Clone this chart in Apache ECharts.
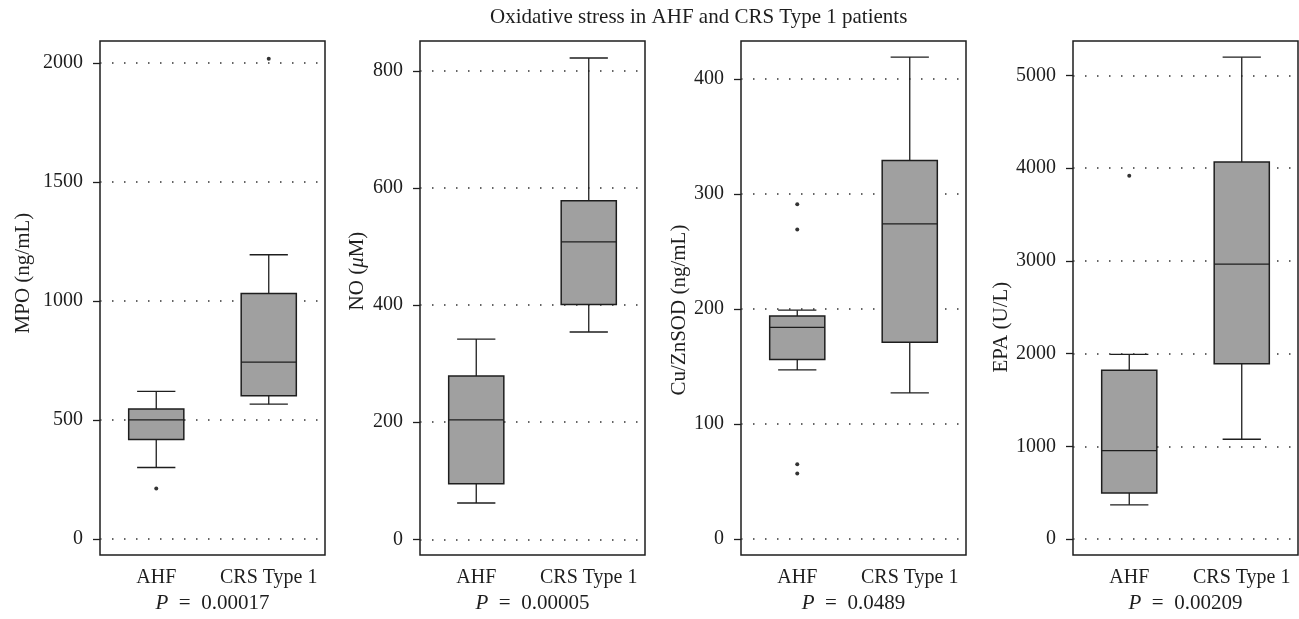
<!DOCTYPE html>
<html>
<head>
<meta charset="utf-8">
<script src="https://cdn.jsdelivr.net/npm/echarts@6/dist/echarts.min.js"></script>
<style>
  html, body { margin: 0; padding: 0; background: #fff; }
  #main { width: 1299px; height: 619px; }
</style>
</head>
<body>
<div id="main"></div>
<script>
// categories
var categories = ['AHF', 'CRS Type 1']

// box values: [low whisker, Q1, median, Q3, high whisker]
var mpoAHF = [300, 418, 500, 546, 620]
var mpoCRS = [566, 601, 743, 1031, 1194]
var mpoOutliers = [[0, 212], [1, 2017]]

var noAHF = [62, 95, 204, 279, 342]
var noCRS = [354, 401, 508, 578, 822]
var noOutliers = []

var sodAHF = [147, 156, 184, 194, 199]
var sodCRS = [127, 171, 274, 329, 419]
var sodOutliers = [[0, 291], [0, 269], [0, 65], [0, 57]]

var epaAHF = [368, 496, 953, 1821, 1991]
var epaCRS = [1076, 1889, 2964, 4066, 5197]
var epaOutliers = [[0, 3917]]

// tick labels of each panel
var mpoTicks = [0, 500, 1000, 1500, 2000]
var noTicks = [0, 200, 400, 600, 800]
var sodTicks = [0, 100, 200, 300, 400]
var epaTicks = [0, 1000, 2000, 3000, 4000, 5000]

var pValues = ['0.00017', '0.00005', '0.0489', '0.00209']

var FONT = 'Liberation Serif'
var INK = '#1e1e1e'

// draws one box with whiskers through the axis scales
function renderBox(params, api) {
  var idx = api.value(0)
  var low = api.coord([idx, api.value(1)])
  var q1 = api.coord([idx, api.value(2)])
  var med = api.coord([idx, api.value(3)])
  var q3 = api.coord([idx, api.value(4)])
  var high = api.coord([idx, api.value(5)])
  var band = api.size([1, 0])[0]
  var x = med[0]
  var hw = band * 0.245
  var cw = band * 0.17
  var ls = { stroke: INK, lineWidth: 1.3, fill: null }
  return {
    type: 'group',
    children: [
      { type: 'line', shape: { x1: x, y1: high[1], x2: x, y2: q3[1] }, style: ls },
      { type: 'line', shape: { x1: x, y1: q1[1], x2: x, y2: low[1] }, style: ls },
      { type: 'line', shape: { x1: x - cw, y1: high[1], x2: x + cw, y2: high[1] }, style: ls },
      { type: 'line', shape: { x1: x - cw, y1: low[1], x2: x + cw, y2: low[1] }, style: ls },
      {
        type: 'rect',
        shape: { x: x - hw, y: q3[1], width: hw * 2, height: q1[1] - q3[1] },
        style: { fill: '#a0a0a0', stroke: INK, lineWidth: 1.5 }
      },
      { type: 'line', shape: { x1: x - hw, y1: med[1], x2: x + hw, y2: med[1] }, style: ls }
    ]
  }
}

var panels = [
  { left: 100, name: 'MPO (ng/mL)', min: -68, max: 2092, ticks: mpoTicks, ahf: mpoAHF, crs: mpoCRS, out: mpoOutliers, pad: [0, 0, 0, 50], gap: 66 },
  { left: 420, name: 'NO ({i|μ}M)', min: -27, max: 851, ticks: noTicks, ahf: noAHF, crs: noCRS, out: noOutliers, pad: [0, 0, 0, 54], gap: 52 },
  { left: 741, name: 'Cu/ZnSOD (ng/mL)', min: -14, max: 433, ticks: sodTicks, ahf: sodAHF, crs: sodCRS, out: sodOutliers, pad: [0, 24, 0, 0], gap: 49 },
  { left: 1073, name: 'EPA (U/L)', min: -174, max: 5372, ticks: epaTicks, ahf: epaAHF, crs: epaCRS, out: epaOutliers, pad: [0, 58, 0, 0], gap: 51 }
]

var grids = []
var xAxes = []
var yAxes = []
var series = []

panels.forEach(function (p, i) {
  grids.push({
    left: p.left, width: 225, top: 41, bottom: 63,
    show: true, borderColor: INK, borderWidth: 1.5, backgroundColor: 'transparent'
  })
  xAxes.push({
    type: 'category',
    gridIndex: i,
    data: categories,
    axisLine: { show: false },
    axisTick: { show: false },
    axisLabel: { interval: 0, color: INK, fontFamily: FONT, fontSize: 20, margin: 13 },
    name: '{i|P}  =  ' + pValues[i],
    nameLocation: 'middle',
    nameGap: 29,
    nameTextStyle: {
      color: INK, fontFamily: FONT, fontSize: 21,
      rich: { i: { fontStyle: 'italic', fontFamily: FONT, fontSize: 21, color: INK } }
    }
  })
  yAxes.push({
    type: 'value',
    gridIndex: i,
    min: p.min,
    max: p.max,
    axisLine: { show: false },
    axisTick: { show: true, length: 7, customValues: p.ticks, lineStyle: { color: INK, width: 1.3 } },
    axisLabel: {
      customValues: p.ticks, color: INK, fontFamily: FONT, fontSize: 20, margin: 17,
      formatter: function (v) { return String(v) }
    },
    splitLine: { show: true, lineStyle: { color: '#333', width: 1.5, type: [1.5, 10.5] } },
    name: p.name,
    nameLocation: 'middle',
    nameGap: p.gap,
    nameTextStyle: {
      color: INK, fontFamily: FONT, fontSize: 21, padding: p.pad,
      rich: { i: { fontStyle: 'italic', fontFamily: FONT, fontSize: 21, color: INK } }
    }
  })
  series.push({
    type: 'custom',
    xAxisIndex: i,
    yAxisIndex: i,
    renderItem: renderBox,
    encode: { x: 0, y: [1, 2, 3, 4, 5] },
    data: [[0].concat(p.ahf), [1].concat(p.crs)],
    z: 3
  })
  series.push({
    type: 'scatter',
    xAxisIndex: i,
    yAxisIndex: i,
    symbolSize: 4,
    itemStyle: { color: '#000' },
    data: p.out,
    z: 4
  })
})

var myChart = echarts.init(document.getElementById('main'))
myChart.setOption({
  animation: false,
  backgroundColor: '#fff',
  title: {
    text: 'Oxidative stress in AHF and CRS Type 1 patients',
    left: 485,
    top: 2,
    textStyle: { color: INK, fontFamily: FONT, fontSize: 21, fontWeight: 'normal' }
  },
  grid: grids,
  xAxis: xAxes,
  yAxis: yAxes,
  series: series
})
window.addEventListener('resize', () => {
  myChart.resize()
})
</script>
</body>
</html>
